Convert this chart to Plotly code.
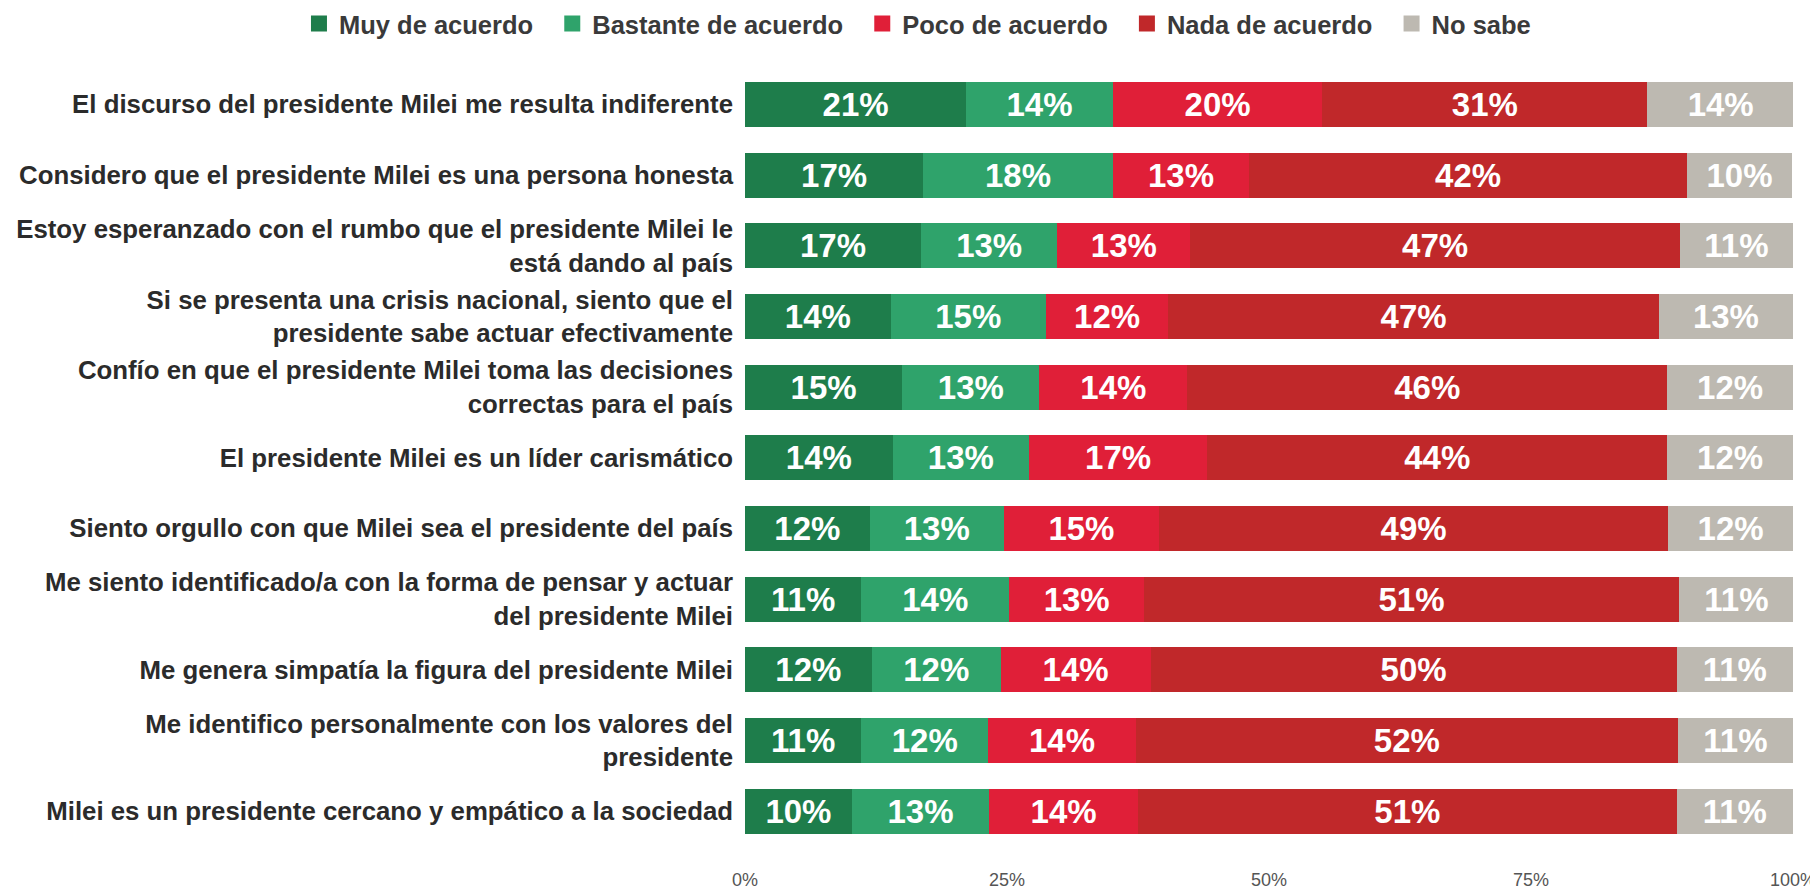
import plotly.graph_objects as go

categories = [
    "El discurso del presidente Milei me resulta indiferente",
    "Considero que el presidente Milei es una persona honesta",
    "Estoy esperanzado con el rumbo que el presidente Milei le<br>está dando al país",
    "Si se presenta una crisis nacional, siento que el<br>presidente sabe actuar efectivamente",
    "Confío en que el presidente Milei toma las decisiones<br>correctas para el país",
    "El presidente Milei es un líder carismático",
    "Siento orgullo con que Milei sea el presidente del país",
    "Me siento identificado/a con la forma de pensar y actuar<br>del presidente Milei",
    "Me genera simpatía la figura del presidente Milei",
    "Me identifico personalmente con los valores del<br>presidente",
    "Milei es un presidente cercano y empático a la sociedad",
]

muy_de_acuerdo = [21.1, 17.0, 16.8, 13.9, 15.0, 14.1, 11.9, 11.1, 12.1, 11.1, 10.2]
bastante_de_acuerdo = [14.0, 18.1, 13.0, 14.8, 13.1, 13.0, 12.8, 14.1, 12.3, 12.1, 13.1]
poco_de_acuerdo = [20.0, 13.0, 12.7, 11.7, 14.1, 17.0, 14.8, 12.9, 14.3, 14.1, 14.2]
nada_de_acuerdo = [31.0, 41.8, 46.7, 46.8, 45.8, 43.9, 48.6, 51.0, 50.2, 51.7, 51.4]
no_sabe = [14.0, 10.0, 10.8, 12.8, 12.0, 12.0, 11.9, 11.0, 11.1, 11.0, 11.1]

tick_vals = [0, 25, 50, 75, 100]
tick_text = ["0%", "25%", "50%", "75%", "100%"]

series = [
    ("Muy de acuerdo", muy_de_acuerdo, "#1E7D4B"),
    ("Bastante de acuerdo", bastante_de_acuerdo, "#2FA36B"),
    ("Poco de acuerdo", poco_de_acuerdo, "#E01F38"),
    ("Nada de acuerdo", nada_de_acuerdo, "#C0282A"),
    ("No sabe", no_sabe, "#BDB9B1"),
]

FONT = "Liberation Sans, Arial, sans-serif"
PAD = "\u00a0\u00a0"

fig = go.Figure()
for name, vals, color in series:
    fig.add_trace(go.Bar(
        y=categories,
        x=vals,
        name=name,
        orientation="h",
        showlegend=False,
        marker=dict(color=color, line=dict(width=0)),
        texttemplate="%{x:.0f}%",
        textposition="inside",
        insidetextanchor="middle",
        textangle=0,
        insidetextfont=dict(family=FONT, size=33, color="white", weight="bold"),
    ))

# legend entries with larger square swatches
for name, vals, color in series:
    fig.add_trace(go.Scatter(
        x=[None], y=[None],
        mode="markers",
        name=name + PAD,
        marker=dict(symbol="square", size=16, color=color),
        showlegend=True,
        hoverinfo="skip",
    ))

fig.update_layout(
    barmode="stack",
    bargap=0.364,
    width=1818,
    height=888,
    paper_bgcolor="white",
    plot_bgcolor="white",
    margin=dict(l=737, r=33, t=61, b=29, autoexpand=False),
    font=dict(family=FONT, color="#333333"),
    legend=dict(
        orientation="h",
        x=-0.4256, xanchor="left",
        y=1.0564, yanchor="middle",
        font=dict(size=25.5, color="#3a3a3a", weight="bold"),
        traceorder="normal",
        itemwidth=30,
        bgcolor="rgba(0,0,0,0)",
    ),
    showlegend=True,
    uniformtext=dict(minsize=28, mode="show"),
)

fig.update_yaxes(
    autorange=False,
    range=[10.79, -0.5],
    showgrid=False,
    zeroline=False,
    showline=False,
    ticks="",
    tickfont=dict(family=FONT, size=25.8, color="#2b2b2b", weight="bold"),
    ticklabelstandoff=11,
)
fig.update_xaxes(
    range=[0, 100],
    tickvals=tick_vals,
    ticktext=tick_text,
    showgrid=False,
    zeroline=False,
    showline=False,
    ticks="",
    tickfont=dict(family=FONT, size=18, color="#555555"),
)

fig.write_html("out.html")
